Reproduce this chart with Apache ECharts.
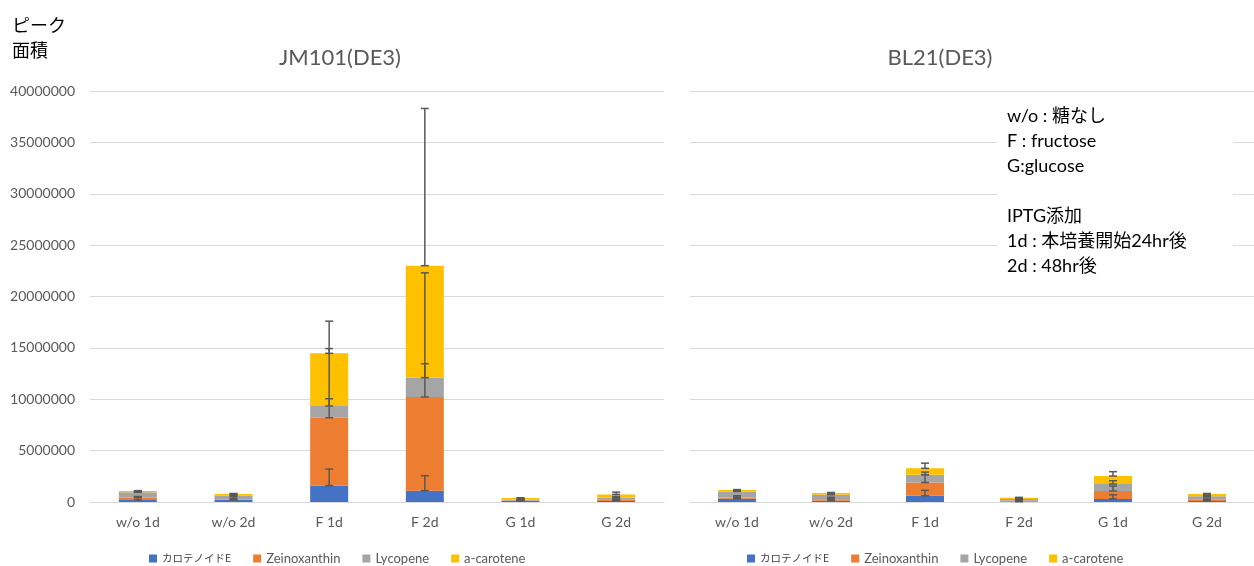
<!DOCTYPE html>
<html>
<head>
<meta charset="utf-8">
<script src="https://cdn.jsdelivr.net/npm/echarts@6/dist/echarts.min.js"></script>
<style>
html,body{margin:0;padding:0;background:#fff;}
#chart{width:1254px;height:566px;}
</style>
</head>
<body>
<div id="chart"></div>
<script>
// ---- data ----
const categories = ['w/o 1d', 'w/o 2d', 'F 1d', 'F 2d', 'G 1d', 'G 2d'];
const seriesNames = ['カロテノイドE', 'Zeinoxanthin', 'Lycopene', 'a-carotene'];
const yTicks = [0, 5000000, 10000000, 15000000, 20000000, 25000000, 30000000, 35000000, 40000000];

// JM101(DE3)
const jmCarotenoidE = [200000, 200000, 1590000, 1100000, 100000, 100000];
const jmZeinoxanthin = [220000, 30000, 6610000, 9120000, 30000, 120000];
const jmLycopene = [520000, 400000, 1140000, 1880000, 120000, 220000];
const jmACarotene = [120000, 150000, 5130000, 10900000, 130000, 300000];
const jmErrCarotenoidE = [300000, 150000, 1620000, 1460000, 50000, 80000];
const jmErrZeinoxanthin = [120000, 300000, 1850000, 3240000, 100000, 150000];
const jmErrLycopene = [100000, 100000, 5590000, 10200000, 50000, 100000];
const jmErrACarotene = [50000, 50000, 3130000, 15300000, 30000, 220000];

// BL21(DE3)
const blCarotenoidE = [320000, 130000, 600000, 30000, 300000, 100000];
const blZeinoxanthin = [130000, 130000, 1300000, 100000, 770000, 130000];
const blLycopene = [580000, 450000, 760000, 160000, 680000, 320000];
const blACarotene = [130000, 160000, 620000, 130000, 780000, 230000];
const blErrCarotenoidE = [300000, 250000, 530000, 50000, 400000, 100000];
const blErrZeinoxanthin = [150000, 200000, 750000, 100000, 480000, 150000];
const blErrLycopene = [100000, 200000, 250000, 50000, 320000, 100000];
const blErrACarotene = [50000, 50000, 500000, 30000, 420000, 50000];

const colors = ['#4472C4', '#ED7D31', '#A5A5A5', '#FFC000'];
const FONT = "Lato, 'Noto Sans CJK JP', sans-serif";

// ---- build ----
function errData(valueArrays, errArrays) {
  const out = [];
  const cum = categories.map(() => 0);
  valueArrays.forEach((arr, s) => {
    arr.forEach((v, i) => {
      cum[i] += v;
      out.push([i, cum[i], errArrays[s][i]]);
    });
  });
  return out;
}

function renderErr(params, api) {
  const x = api.value(0), base = api.value(1), e = api.value(2);
  const p0 = api.coord([x, base]);
  const p1 = api.coord([x, base + e]);
  const w = 4;
  const st = { stroke: '#595959', lineWidth: 1.5 };
  return {
    type: 'group',
    children: [
      { type: 'line', shape: { x1: p0[0], y1: p0[1], x2: p1[0], y2: p1[1] }, style: st },
      { type: 'line', shape: { x1: p0[0] - w, y1: p0[1], x2: p0[0] + w, y2: p0[1] }, style: st },
      { type: 'line', shape: { x1: p1[0] - w, y1: p1[1], x2: p1[0] + w, y2: p1[1] }, style: st }
    ]
  };
}

const jmVals = [jmCarotenoidE, jmZeinoxanthin, jmLycopene, jmACarotene];
const jmErrs = [jmErrCarotenoidE, jmErrZeinoxanthin, jmErrLycopene, jmErrACarotene];
const blVals = [blCarotenoidE, blZeinoxanthin, blLycopene, blACarotene];
const blErrs = [blErrCarotenoidE, blErrZeinoxanthin, blErrLycopene, blErrACarotene];

const series = [];
[[jmVals, 0, 'jm'], [blVals, 1, 'bl']].forEach(([vals, idx, stack]) => {
  vals.forEach((arr, s) => {
    series.push({
      name: seriesNames[s], type: 'bar', stack: stack,
      xAxisIndex: idx, yAxisIndex: idx,
      barWidth: 38, data: arr,
      itemStyle: { color: colors[s] },
      emphasis: { disabled: true }
    });
  });
});
series.push({ name: 'errJM', type: 'custom', xAxisIndex: 0, yAxisIndex: 0, renderItem: renderErr, data: errData(jmVals, jmErrs), z: 10, encode: { x: 0, y: 1 } });
series.push({ name: 'errBL', type: 'custom', xAxisIndex: 1, yAxisIndex: 1, renderItem: renderErr, data: errData(blVals, blErrs), z: 10, encode: { x: 0, y: 1 } });

const xAxisBase = {
  type: 'category', data: categories,
  axisLine: { lineStyle: { color: '#D9D9D9', width: 1 } },
  axisTick: { show: false },
  axisLabel: { color: '#595959', fontSize: 14, fontFamily: FONT, margin: 13 }
};
const yAxisBase = {
  type: 'value', min: yTicks[0], max: yTicks[yTicks.length - 1], interval: yTicks[1] - yTicks[0],
  axisLine: { show: false }, axisTick: { show: false },
  splitLine: { lineStyle: { color: '#D9D9D9', width: 1 } },
  axisLabel: { color: '#595959', fontSize: 14, fontFamily: FONT, margin: 15, formatter: v => String(v) }
};

const legendBase = {
  data: seriesNames, icon: 'rect', itemWidth: 8, itemHeight: 8, itemGap: 22,
  textStyle: {
    color: '#595959', fontSize: 13, fontFamily: FONT,
    rich: { jp: { fontSize: 10.5, color: '#404040', fontFamily: "'Noto Sans CJK JP', sans-serif" } }
  },
  formatter: name => name === seriesNames[0] ? '{jp|' + name + '}' : name,
  top: 547, selectedMode: false
};

const chart = echarts.init(document.getElementById('chart'));
chart.setOption({
  animation: false,
  textStyle: { fontFamily: FONT },
  grid: [
    { left: 90, top: 91, width: 574, height: 411 },
    { left: 690, top: 91, width: 574, height: 411 }
  ],
  xAxis: [Object.assign({ gridIndex: 0 }, xAxisBase), Object.assign({ gridIndex: 1 }, xAxisBase)],
  yAxis: [
    Object.assign({ gridIndex: 0 }, yAxisBase),
    Object.assign({ gridIndex: 1 }, yAxisBase, { axisLabel: { show: false } })
  ],
  legend: [
    Object.assign({ left: 144 }, legendBase),
    Object.assign({ left: 742 }, legendBase)
  ],
  graphic: [
    { type: 'text', left: 12, top: 13, style: { text: 'ピーク\n面積', fontSize: 18, lineHeight: 25, fill: '#000', fontFamily: "'Noto Sans CJK JP', sans-serif" } },
    { type: 'text', x: 340, y: 58, style: { text: 'JM101(DE3)', fontSize: 22, fill: '#595959', fontFamily: FONT, align: 'center', verticalAlign: 'middle' } },
    { type: 'text', x: 940, y: 58, style: { text: 'BL21(DE3)', fontSize: 22, fill: '#595959', fontFamily: FONT, align: 'center', verticalAlign: 'middle' } },
    { type: 'rect', shape: { x: 997, y: 100, width: 236, height: 184 }, style: { fill: '#fff' }, z: 5 },
    { type: 'text', x: 1007, y: 104, z: 6, style: { text: 'w/o : 糖なし\nF : fructose\nG:glucose\n\nIPTG添加\n1d : 本培養開始24hr後\n2d : 48hr後', fontSize: 18, lineHeight: 25, fill: '#000', fontFamily: "Lato, 'Noto Sans CJK JP', sans-serif" } }
  ],
  series: series
});
</script>
</body>
</html>
